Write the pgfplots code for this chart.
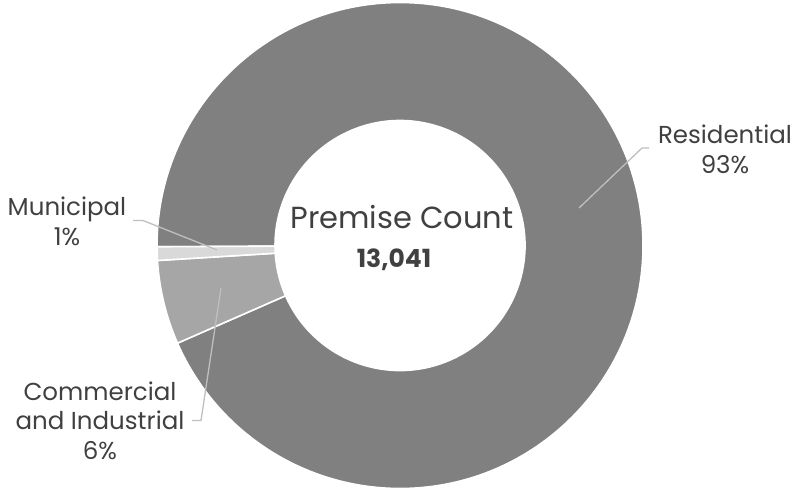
\documentclass[border=0pt]{standalone}
\usepackage{fontspec}
\setmainfont{Poppins}
\usepackage{pgfplots}
\usepackage{pgfplotstable}
\pgfplotsset{compat=1.18}
\usetikzlibrary{calc}
\definecolor{cRes}{HTML}{808080}
\definecolor{cCom}{HTML}{A6A6A6}
\definecolor{cMun}{HTML}{D9D9D9}
\definecolor{cTxt}{HTML}{404040}
\definecolor{cLead}{HTML}{BFBFBF}
\pgfplotstableread{
label value
Residential 93.5
Commercial 5.6
Municipal 0.9
}\piedata
\begin{document}
\begin{tikzpicture}
\pgfplotstablegetelem{0}{value}\of\piedata \pgfmathsetmacro\vRes{\pgfplotsretval}
\pgfplotstablegetelem{1}{value}\of\piedata \pgfmathsetmacro\vCom{\pgfplotsretval}
\pgfplotstablegetelem{2}{value}\of\piedata \pgfmathsetmacro\vMun{\pgfplotsretval}
\pgfmathsetmacro\aA{180.3}
\pgfmathsetmacro\aB{\aA-3.6*\vRes}
\pgfmathsetmacro\aC{\aB-3.6*\vCom}
\pgfmathsetmacro\aD{\aC-3.6*\vMun}
\begin{axis}[
  width=794pt, height=491pt, scale only axis,
  xmin=0, xmax=794, ymin=0, ymax=491, y dir=reverse,
  hide axis, clip=false,
]
\path[use as bounding box] (axis cs:0,0) rectangle (axis cs:794,491);
\coordinate (O) at (axis cs:400,245.5);
\fill[cRes, draw=white, line width=1.6pt] ($(O)+(\aA:243pt)$) arc[start angle=\aA, end angle=\aB, radius=243pt]
   -- ($(O)+(\aB:125pt)$) arc[start angle=\aB, end angle=\aA, radius=125pt] -- cycle;
\fill[cCom, draw=white, line width=1.6pt] ($(O)+(\aB:243pt)$) arc[start angle=\aB, end angle=\aC, radius=243pt]
   -- ($(O)+(\aC:125pt)$) arc[start angle=\aC, end angle=\aB, radius=125pt] -- cycle;
\fill[cMun, draw=white, line width=1.6pt] ($(O)+(\aC:243pt)$) arc[start angle=\aC, end angle=\aD, radius=243pt]
   -- ($(O)+(\aD:125pt)$) arc[start angle=\aD, end angle=\aC, radius=125pt] -- cycle;
% leader lines
\draw[cLead, line width=1.3pt] (axis cs:579,208) -- (axis cs:642,148) -- (axis cs:649,148);
\draw[cLead, line width=1.3pt] (axis cs:133,220.5) -- (axis cs:143,220.5) -- (axis cs:217,250);
\draw[cLead, line width=1.3pt] (axis cs:221,288) -- (axis cs:201,420.5) -- (axis cs:192,420.5);
% labels
\tikzset{lab/.style={anchor=base, text=cTxt, font=\fontsize{24.5}{28}\selectfont, inner sep=0pt}}
\node[lab] at (axis cs:725,143) {Residential};
\node[lab] at (axis cs:725,173) {93\%};
\node[lab] at (axis cs:67,215) {Municipal};
\node[lab] at (axis cs:67,245) {1\%};
\node[lab] at (axis cs:100,400) {Commercial};
\node[lab] at (axis cs:100,429) {and Industrial};
\node[lab] at (axis cs:100,459) {6\%};
\node[anchor=base, text=cTxt, inner sep=0pt, font=\fontsize{30.5}{34}\selectfont] at (axis cs:402,228) {Premise Count};
\node[anchor=base, text=cTxt, inner sep=0pt, font=\fontsize{25}{29}\selectfont\bfseries] at (axis cs:394,267) {13,041};
\end{axis}
\end{tikzpicture}
\end{document}
